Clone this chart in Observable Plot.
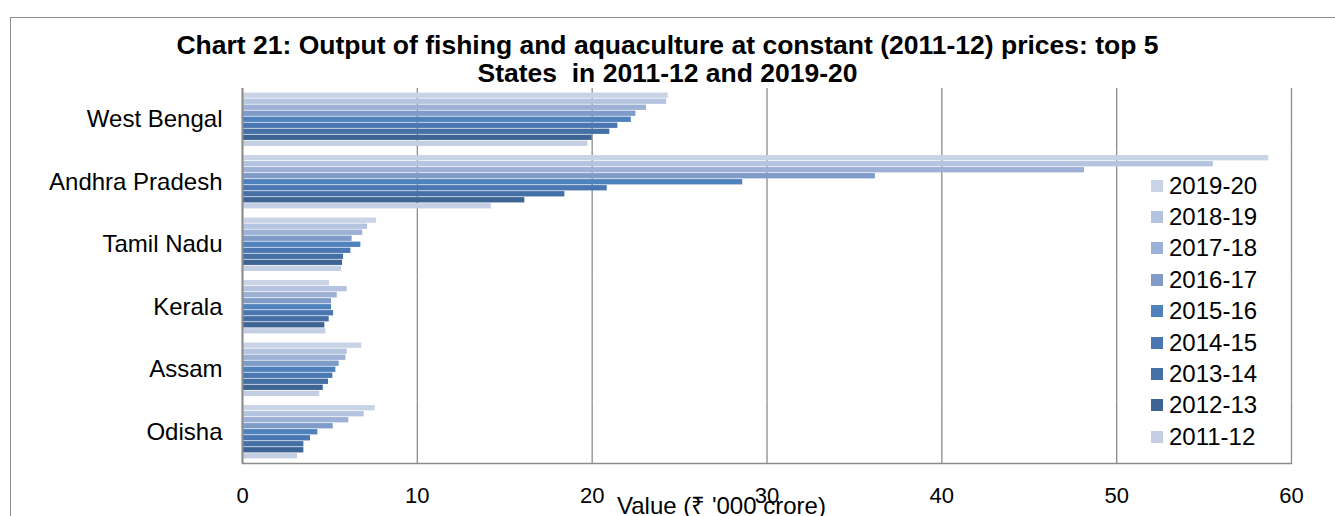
<!DOCTYPE html>
<html>
<head>
<meta charset="utf-8">
<script src="https://cdn.jsdelivr.net/npm/d3@7"></script>
<script src="https://cdn.jsdelivr.net/npm/@observablehq/plot@0.6"></script>
<style>
  html, body { margin: 0; padding: 0; background: #fff; }
  #wrap { position: relative; width: 1335px; height: 516px; overflow: hidden; font-family: "Liberation Sans", Arial, sans-serif; }
  #frame { position: absolute; left: 10px; top: 17px; width: 1400px; height: 600px; border-top: 1.5px solid #8c8c8c; border-left: 1.5px solid #8c8c8c; box-sizing: border-box; }
  #title { position: absolute; left: 0; width: 1335px; top: 31px; text-align: center; font-weight: bold; font-size: 26.5px; line-height: 28px; color: #000; }
  #chart { position: absolute; left: 0; top: 0; }
  #legend { position: absolute; left: 1151px; top: 170px; }
  .li { display: flex; align-items: center; height: 31.4px; font-size: 24px; color: #000; }
  .sw { width: 12px; height: 12px; margin-right: 6px; }
  #xlabel { position: absolute; top: 488px; left: 617px; font-size: 24px; color: #000; white-space: nowrap; }
</style>
</head>
<body>
<div id="wrap">
  <div id="frame"></div>
  <div id="chart"></div>
  <div id="title">Chart 21: Output of fishing and aquaculture at constant (2011-12) prices: top 5<br>States&nbsp; in 2011-12 and 2019-20</div>
  <div id="legend"></div>
  <div id="xlabel">Value (₹ '000 crore)</div>
</div>
<script>
const states = ["West Bengal", "Andhra Pradesh", "Tamil Nadu", "Kerala", "Assam", "Odisha"];
const years = ["2019-20", "2018-19", "2017-18", "2016-17", "2015-16", "2014-15", "2013-14", "2012-13", "2011-12"];
const colors = ["#c9d3e6", "#b4c3df", "#9cb1d5", "#7f9bc8", "#4f81bd", "#4a77b1", "#4570a5", "#3e6494", "#c4cfe3"];
// values per state, in the order of `years`
const westBengal    = [24.35, 24.26, 23.11, 22.50, 22.24, 21.47, 21.01, 20.00, 19.76];
const andhraPradesh = [58.70, 55.53, 48.16, 36.20, 28.61, 20.86, 18.44, 16.15, 14.23];
const tamilNadu     = [7.67, 7.15, 6.88, 6.27, 6.77, 6.20, 5.78, 5.72, 5.66];
const kerala        = [4.98, 5.99, 5.42, 5.09, 5.09, 5.21, 4.96, 4.71, 4.77];
const assam         = [6.83, 5.99, 5.91, 5.53, 5.34, 5.17, 4.92, 4.62, 4.42];
const odisha        = [7.59, 6.96, 6.08, 5.19, 4.31, 3.89, 3.51, 3.51, 3.15];
const xTicks = [0, 10, 20, 30, 40, 50, 60];

const series = [westBengal, andhraPradesh, tamilNadu, kerala, assam, odisha];
const data = [];
states.forEach((s, i) => years.forEach((y, j) => data.push({state: s, year: y, value: series[i][j]})));

const grid = "#8c8c8c";
const chart = Plot.plot({
  width: 1335,
  height: 516,
  marginTop: 88,
  marginBottom: 53,
  marginLeft: 242,
  marginRight: 44,
  style: {fontFamily: "'Liberation Sans', Arial, sans-serif", color: "#000", background: "transparent"},
  x: {domain: [0, 60], axis: null},
  y: {domain: years, axis: null, paddingInner: 0, paddingOuter: 0.7, round: false},
  fy: {domain: states, padding: 0, axis: null, round: false},
  color: {domain: years, range: colors},
  marks: [
    Plot.ruleX(xTicks, {stroke: grid, strokeWidth: 1.3}),
    Plot.barX(data, {x: "value", y: "year", fy: "state", fill: "year", insetTop: 0.35, insetBottom: 0.35}),
    Plot.ruleX([0], {stroke: grid, strokeWidth: 2}),
    Plot.frame({anchor: "bottom", facetAnchor: "bottom", stroke: grid, strokeWidth: 1.5}),
    Plot.axisX(xTicks, {tickSize: 0, tickPadding: 24, fontSize: 22, label: null}),
    Plot.axisFy({anchor: "left", tickSize: 0, tickPadding: 20, fontSize: 24, label: null})
  ]
});
document.getElementById("chart").appendChild(chart);

const legend = document.getElementById("legend");
years.forEach((y, i) => {
  const row = document.createElement("div");
  row.className = "li";
  row.innerHTML = `<span class="sw" style="background:${colors[i]}"></span><span>${y}</span>`;
  legend.appendChild(row);
});
</script>
</body>
</html>
